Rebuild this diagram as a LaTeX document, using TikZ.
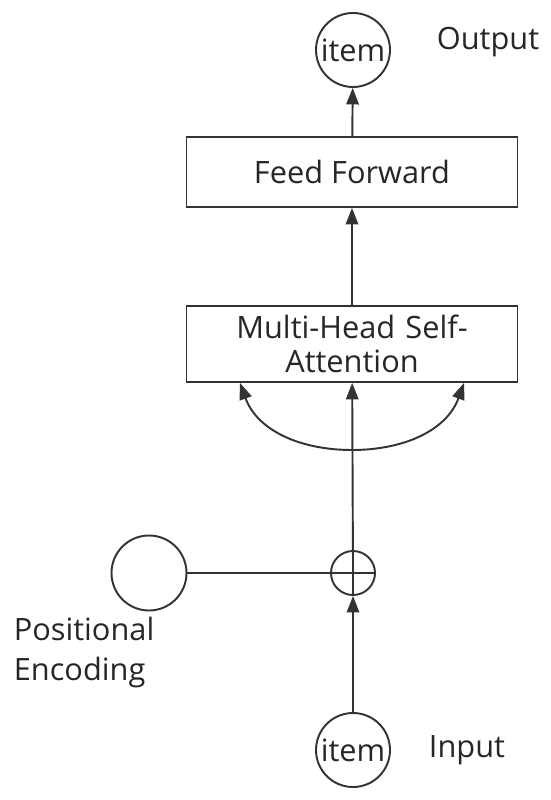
\documentclass[tikz,border=0pt]{standalone}
\usepackage{fontspec}
\setmainfont{Open Sans}
\usetikzlibrary{arrows.meta}

\begin{document}
\begin{tikzpicture}
[>={Triangle[length=3.3mm, width=2.5mm]}, line width=1.1pt, draw=black!80, text=black!85,
 font=\fontsize{17.5}{22}\selectfont,
 token/.style={circle, draw, inner sep=0, minimum size=1.48cm},
 layer/.style={rectangle, draw, inner sep=0, minimum width=6.62cm, align=center},
 sum/.style={circle, draw, inner sep=0, minimum size=0.88cm}]
\useasboundingbox (0, 0) rectangle (11, -16);
\node (out) [token] at (7.06, -1.0) {item};
\node (outlabel) at (9.76, -0.84) {Output};
\node (ff) [layer, minimum height=1.4cm] at (7.04, -3.44) {Feed Forward};
\node (mhsa) [layer, minimum height=1.52cm, text width=5cm] at (7.04, -6.88) {Multi-Head Self-\\[-3pt]Attention};
\coordinate (bend) at (7.04, -9.0);
\node (plus) [sum] at (7.06, -11.46) {};
\draw (plus.north) -- (plus.south) (plus.west) -- (plus.east);
\node (pe) [token, minimum size=1.5cm] at (2.98, -11.46) {};
\node (pelabel) [anchor=west, align=left] at (0.14, -13.05) {Positional\\[1pt]Encoding};
\node (in) [token] at (7.06, -15.0) {item};
\node (inlabel) at (9.34, -15.0) {Input};
\draw [->] (in) -- (plus);
\draw [->] (plus) -- (mhsa);
\draw (pe) -- (plus);
\draw [->] (bend) to [out=180, in=-70, looseness=1.0] ([xshift=-2.24cm]mhsa.south);
\draw [->] (bend) to [out=0, in=-110, looseness=1.0] ([xshift=2.24cm]mhsa.south);
\draw [->] (mhsa) -- (ff);
\draw [->] (ff) -- (out);
\end{tikzpicture}
\end{document}
